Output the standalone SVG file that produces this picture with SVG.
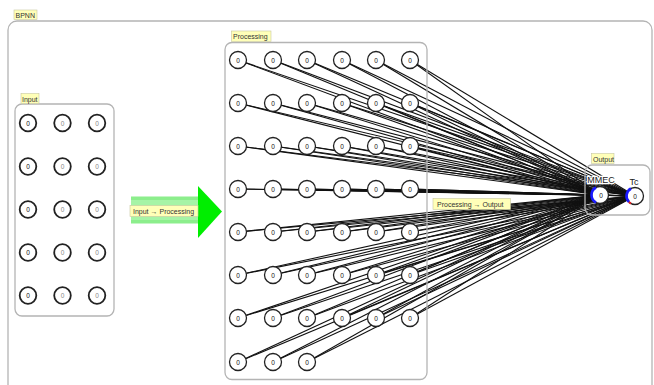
<svg xmlns="http://www.w3.org/2000/svg" width="654" height="385" viewBox="0 0 654 385">
  <style>
    .grp { fill: none; stroke: #b4b4b4; stroke-width: 1.3; }
    .tag { fill: #ffffb8; stroke: #c8c8a0; stroke-width: 0.6; }
    .tagtxt { font-family: "Liberation Sans", Arial, sans-serif; font-size: 7px; fill: #333; }
    .nd { fill: #fff; stroke: #222; stroke-width: 1.3; }
    .ndin { fill: #fff; stroke: #222; stroke-width: 1.8; }
    .v { font-family: "Liberation Sans", Arial, sans-serif; font-size: 6.5px; fill: #111; text-anchor: middle; }
    .vg { fill: #888; }
    .lbl { font-family: "Liberation Sans", Arial, sans-serif; font-size: 9px; fill: #222; text-anchor: middle; stroke: #fff; stroke-width: 2.5; paint-order: stroke; }
    .e line { stroke: #111; stroke-width: 1.1; }
  </style>

  <!-- outer network frame -->
  <g id="bpnn">
    <rect class="grp" x="8" y="21" width="644" height="400" rx="9"/>
    <rect class="tag" x="14" y="10" width="23" height="9.5"/>
    <text class="tagtxt" x="15.5" y="17.5">BPNN</text>
  </g>

  <!-- input layer -->
  <g id="input">
    <rect class="grp" x="15" y="104" width="99" height="212" rx="7"/>
    <rect class="tag" x="21" y="93.5" width="18" height="10"/>
    <text class="tagtxt" x="22" y="101.5">Input</text>
    <g>
      <circle class="ndin" cx="28" cy="123" r="8.3"/><text class="v" x="28" y="125.5">0</text>
      <circle class="ndin" cx="62.5" cy="123" r="8.3"/><text class="v vg" x="62.5" y="125.5">0</text>
      <circle class="ndin" cx="97" cy="123" r="8.3"/><text class="v vg" x="97" y="125.5">0</text>
      <circle class="ndin" cx="28" cy="166.5" r="8.3"/><text class="v" x="28" y="169">0</text>
      <circle class="ndin" cx="62.5" cy="166.5" r="8.3"/><text class="v vg" x="62.5" y="169">0</text>
      <circle class="ndin" cx="97" cy="166.5" r="8.3"/><text class="v vg" x="97" y="169">0</text>
      <circle class="ndin" cx="28" cy="209.5" r="8.3"/><text class="v" x="28" y="212">0</text>
      <circle class="ndin" cx="62.5" cy="209.5" r="8.3"/><text class="v vg" x="62.5" y="212">0</text>
      <circle class="ndin" cx="97" cy="209.5" r="8.3"/><text class="v vg" x="97" y="212">0</text>
      <circle class="ndin" cx="28" cy="252.5" r="8.3"/><text class="v" x="28" y="255">0</text>
      <circle class="ndin" cx="62.5" cy="252.5" r="8.3"/><text class="v vg" x="62.5" y="255">0</text>
      <circle class="ndin" cx="97" cy="252.5" r="8.3"/><text class="v vg" x="97" y="255">0</text>
      <circle class="ndin" cx="28" cy="295.5" r="8.3"/><text class="v" x="28" y="298">0</text>
      <circle class="ndin" cx="62.5" cy="295.5" r="8.3"/><text class="v vg" x="62.5" y="298">0</text>
      <circle class="ndin" cx="97" cy="295.5" r="8.3"/><text class="v vg" x="97" y="298">0</text>
    </g>
  </g>

  <!-- group link: input to processing -->
  <g id="link-input-processing">
    <rect x="131" y="196.5" width="67" height="27" fill="#8cee8c"/>
    <rect x="131" y="200" width="67" height="20" fill="#a6f4a6"/>
    <polygon points="198,186 222,211.5 198,238" fill="#00ee00"/>
    <rect class="tag" x="130" y="205.5" width="68" height="11"/>
    <text class="tagtxt" x="133" y="213.5">Input → Processing</text>
  </g>

  <!-- connectors: every processing unit to MMEC and Tc -->
  <g id="connectors" class="e">
    <line x1="238" y1="60" x2="600" y2="195"/><line x1="238" y1="60" x2="635" y2="196"/>
    <line x1="273" y1="60" x2="600" y2="195"/><line x1="273" y1="60" x2="635" y2="196"/>
    <line x1="307" y1="60" x2="600" y2="195"/><line x1="307" y1="60" x2="635" y2="196"/>
    <line x1="342" y1="60" x2="600" y2="195"/><line x1="342" y1="60" x2="635" y2="196"/>
    <line x1="376" y1="60" x2="600" y2="195"/><line x1="376" y1="60" x2="635" y2="196"/>
    <line x1="410" y1="60" x2="600" y2="195"/><line x1="410" y1="60" x2="635" y2="196"/>

    <line x1="238" y1="103" x2="600" y2="195"/><line x1="238" y1="103" x2="635" y2="196"/>
    <line x1="273" y1="103" x2="600" y2="195"/><line x1="273" y1="103" x2="635" y2="196"/>
    <line x1="307" y1="103" x2="600" y2="195"/><line x1="307" y1="103" x2="635" y2="196"/>
    <line x1="342" y1="103" x2="600" y2="195"/><line x1="342" y1="103" x2="635" y2="196"/>
    <line x1="376" y1="103" x2="600" y2="195"/><line x1="376" y1="103" x2="635" y2="196"/>
    <line x1="410" y1="103" x2="600" y2="195"/><line x1="410" y1="103" x2="635" y2="196"/>

    <line x1="238" y1="146" x2="600" y2="195"/><line x1="238" y1="146" x2="635" y2="196"/>
    <line x1="273" y1="146" x2="600" y2="195"/><line x1="273" y1="146" x2="635" y2="196"/>
    <line x1="307" y1="146" x2="600" y2="195"/><line x1="307" y1="146" x2="635" y2="196"/>
    <line x1="342" y1="146" x2="600" y2="195"/><line x1="342" y1="146" x2="635" y2="196"/>
    <line x1="376" y1="146" x2="600" y2="195"/><line x1="376" y1="146" x2="635" y2="196"/>
    <line x1="410" y1="146" x2="600" y2="195"/><line x1="410" y1="146" x2="635" y2="196"/>

    <line x1="238" y1="189" x2="600" y2="195"/><line x1="238" y1="189" x2="635" y2="196"/>
    <line x1="273" y1="189" x2="600" y2="195"/><line x1="273" y1="189" x2="635" y2="196"/>
    <line x1="307" y1="189" x2="600" y2="195"/><line x1="307" y1="189" x2="635" y2="196"/>
    <line x1="342" y1="189" x2="600" y2="195"/><line x1="342" y1="189" x2="635" y2="196"/>
    <line x1="376" y1="189" x2="600" y2="195"/><line x1="376" y1="189" x2="635" y2="196"/>
    <line x1="410" y1="189" x2="600" y2="195"/><line x1="410" y1="189" x2="635" y2="196"/>

    <line x1="238" y1="232" x2="600" y2="195"/><line x1="238" y1="232" x2="635" y2="196"/>
    <line x1="273" y1="232" x2="600" y2="195"/><line x1="273" y1="232" x2="635" y2="196"/>
    <line x1="307" y1="232" x2="600" y2="195"/><line x1="307" y1="232" x2="635" y2="196"/>
    <line x1="342" y1="232" x2="600" y2="195"/><line x1="342" y1="232" x2="635" y2="196"/>
    <line x1="376" y1="232" x2="600" y2="195"/><line x1="376" y1="232" x2="635" y2="196"/>
    <line x1="410" y1="232" x2="600" y2="195"/><line x1="410" y1="232" x2="635" y2="196"/>

    <line x1="238" y1="275" x2="600" y2="195"/><line x1="238" y1="275" x2="635" y2="196"/>
    <line x1="273" y1="275" x2="600" y2="195"/><line x1="273" y1="275" x2="635" y2="196"/>
    <line x1="307" y1="275" x2="600" y2="195"/><line x1="307" y1="275" x2="635" y2="196"/>
    <line x1="342" y1="275" x2="600" y2="195"/><line x1="342" y1="275" x2="635" y2="196"/>
    <line x1="376" y1="275" x2="600" y2="195"/><line x1="376" y1="275" x2="635" y2="196"/>
    <line x1="410" y1="275" x2="600" y2="195"/><line x1="410" y1="275" x2="635" y2="196"/>

    <line x1="238" y1="318" x2="600" y2="195"/><line x1="238" y1="318" x2="635" y2="196"/>
    <line x1="273" y1="318" x2="600" y2="195"/><line x1="273" y1="318" x2="635" y2="196"/>
    <line x1="307" y1="318" x2="600" y2="195"/><line x1="307" y1="318" x2="635" y2="196"/>
    <line x1="342" y1="318" x2="600" y2="195"/><line x1="342" y1="318" x2="635" y2="196"/>
    <line x1="376" y1="318" x2="600" y2="195"/><line x1="376" y1="318" x2="635" y2="196"/>
    <line x1="410" y1="318" x2="600" y2="195"/><line x1="410" y1="318" x2="635" y2="196"/>

    <line x1="238" y1="362" x2="600" y2="195"/><line x1="238" y1="362" x2="635" y2="196"/>
    <line x1="273" y1="362" x2="600" y2="195"/><line x1="273" y1="362" x2="635" y2="196"/>
    <line x1="307" y1="362" x2="600" y2="195"/><line x1="307" y1="362" x2="635" y2="196"/>

    <line x1="600" y1="195" x2="635" y2="196"/>
  </g>

  <!-- processing layer -->
  <g id="processing">
    <rect class="grp" x="225" y="42.5" width="202" height="337" rx="7"/>
    <rect class="tag" x="231.5" y="31" width="39.5" height="10.5"/>
    <text class="tagtxt" x="233" y="39">Processing</text>
    <g>
      <circle class="nd" cx="238" cy="60" r="8.5"/><text class="v" x="238" y="62.5">0</text>
      <circle class="nd" cx="273" cy="60" r="8.5"/><text class="v" x="273" y="62.5">0</text>
      <circle class="nd" cx="307" cy="60" r="8.5"/><text class="v" x="307" y="62.5">0</text>
      <circle class="nd" cx="342" cy="60" r="8.5"/><text class="v" x="342" y="62.5">0</text>
      <circle class="nd" cx="376" cy="60" r="8.5"/><text class="v" x="376" y="62.5">0</text>
      <circle class="nd" cx="410" cy="60" r="8.5"/><text class="v" x="410" y="62.5">0</text>

      <circle class="nd" cx="238" cy="103" r="8.5"/><text class="v" x="238" y="105.5">0</text>
      <circle class="nd" cx="273" cy="103" r="8.5"/><text class="v" x="273" y="105.5">0</text>
      <circle class="nd" cx="307" cy="103" r="8.5"/><text class="v" x="307" y="105.5">0</text>
      <circle class="nd" cx="342" cy="103" r="8.5"/><text class="v" x="342" y="105.5">0</text>
      <circle class="nd" cx="376" cy="103" r="8.5"/><text class="v" x="376" y="105.5">0</text>
      <circle class="nd" cx="410" cy="103" r="8.5"/><text class="v" x="410" y="105.5">0</text>

      <circle class="nd" cx="238" cy="146" r="8.5"/><text class="v" x="238" y="148.5">0</text>
      <circle class="nd" cx="273" cy="146" r="8.5"/><text class="v" x="273" y="148.5">0</text>
      <circle class="nd" cx="307" cy="146" r="8.5"/><text class="v" x="307" y="148.5">0</text>
      <circle class="nd" cx="342" cy="146" r="8.5"/><text class="v" x="342" y="148.5">0</text>
      <circle class="nd" cx="376" cy="146" r="8.5"/><text class="v" x="376" y="148.5">0</text>
      <circle class="nd" cx="410" cy="146" r="8.5"/><text class="v" x="410" y="148.5">0</text>

      <circle class="nd" cx="238" cy="189" r="8.5"/><text class="v" x="238" y="191.5">0</text>
      <circle class="nd" cx="273" cy="189" r="8.5"/><text class="v" x="273" y="191.5">0</text>
      <circle class="nd" cx="307" cy="189" r="8.5"/><text class="v" x="307" y="191.5">0</text>
      <circle class="nd" cx="342" cy="189" r="8.5"/><text class="v" x="342" y="191.5">0</text>
      <circle class="nd" cx="376" cy="189" r="8.5"/><text class="v" x="376" y="191.5">0</text>
      <circle class="nd" cx="410" cy="189" r="8.5"/><text class="v" x="410" y="191.5">0</text>

      <circle class="nd" cx="238" cy="232" r="8.5"/><text class="v" x="238" y="234.5">0</text>
      <circle class="nd" cx="273" cy="232" r="8.5"/><text class="v" x="273" y="234.5">0</text>
      <circle class="nd" cx="307" cy="232" r="8.5"/><text class="v" x="307" y="234.5">0</text>
      <circle class="nd" cx="342" cy="232" r="8.5"/><text class="v" x="342" y="234.5">0</text>
      <circle class="nd" cx="376" cy="232" r="8.5"/><text class="v" x="376" y="234.5">0</text>
      <circle class="nd" cx="410" cy="232" r="8.5"/><text class="v" x="410" y="234.5">0</text>

      <circle class="nd" cx="238" cy="275" r="8.5"/><text class="v" x="238" y="277.5">0</text>
      <circle class="nd" cx="273" cy="275" r="8.5"/><text class="v" x="273" y="277.5">0</text>
      <circle class="nd" cx="307" cy="275" r="8.5"/><text class="v" x="307" y="277.5">0</text>
      <circle class="nd" cx="342" cy="275" r="8.5"/><text class="v" x="342" y="277.5">0</text>
      <circle class="nd" cx="376" cy="275" r="8.5"/><text class="v" x="376" y="277.5">0</text>
      <circle class="nd" cx="410" cy="275" r="8.5"/><text class="v" x="410" y="277.5">0</text>

      <circle class="nd" cx="238" cy="318" r="8.5"/><text class="v" x="238" y="320.5">0</text>
      <circle class="nd" cx="273" cy="318" r="8.5"/><text class="v" x="273" y="320.5">0</text>
      <circle class="nd" cx="307" cy="318" r="8.5"/><text class="v" x="307" y="320.5">0</text>
      <circle class="nd" cx="342" cy="318" r="8.5"/><text class="v" x="342" y="320.5">0</text>
      <circle class="nd" cx="376" cy="318" r="8.5"/><text class="v" x="376" y="320.5">0</text>
      <circle class="nd" cx="410" cy="318" r="8.5"/><text class="v" x="410" y="320.5">0</text>

      <circle class="nd" cx="238" cy="362" r="8.5"/><text class="v" x="238" y="364.5">0</text>
      <circle class="nd" cx="273" cy="362" r="8.5"/><text class="v" x="273" y="364.5">0</text>
      <circle class="nd" cx="307" cy="362" r="8.5"/><text class="v" x="307" y="364.5">0</text>
    </g>
  </g>

  <!-- group link label: processing to output -->
  <g id="link-processing-output">
    <rect class="tag" x="433" y="198.5" width="77.5" height="11"/>
    <text class="tagtxt" x="437" y="206.5">Processing → Output</text>
  </g>

  <!-- output layer -->
  <g id="output">
    <rect class="grp" x="585" y="165" width="65" height="50" rx="7"/>
    <rect class="tag" x="591.5" y="153.5" width="22.5" height="10"/>
    <text class="tagtxt" x="593" y="161.5">Output</text>
    <g id="mmec">
      <circle class="nd" cx="600" cy="195" r="8.5"/>
      <path d="M596 187.5 A8.5 8.5 0 0 0 596 202.5" fill="none" stroke="#1a1aff" stroke-width="2.6"/>
      <text class="v" x="601" y="197.5">0</text>
      <text class="lbl" x="601" y="182.5">MMEC</text>
    </g>
    <g id="tc">
      <circle class="nd" cx="635" cy="196" r="8.5"/>
      <path d="M631 188.5 A8.5 8.5 0 0 0 629 202" fill="none" stroke="#1a1aff" stroke-width="2.6"/>
      <path d="M629 202 A8.5 8.5 0 0 0 631 203.5" fill="none" stroke="#e02020" stroke-width="2"/>
      <text class="v" x="635" y="198.5">0</text>
      <text class="lbl" x="634" y="184.5">Tc</text>
    </g>
  </g>
</svg>
